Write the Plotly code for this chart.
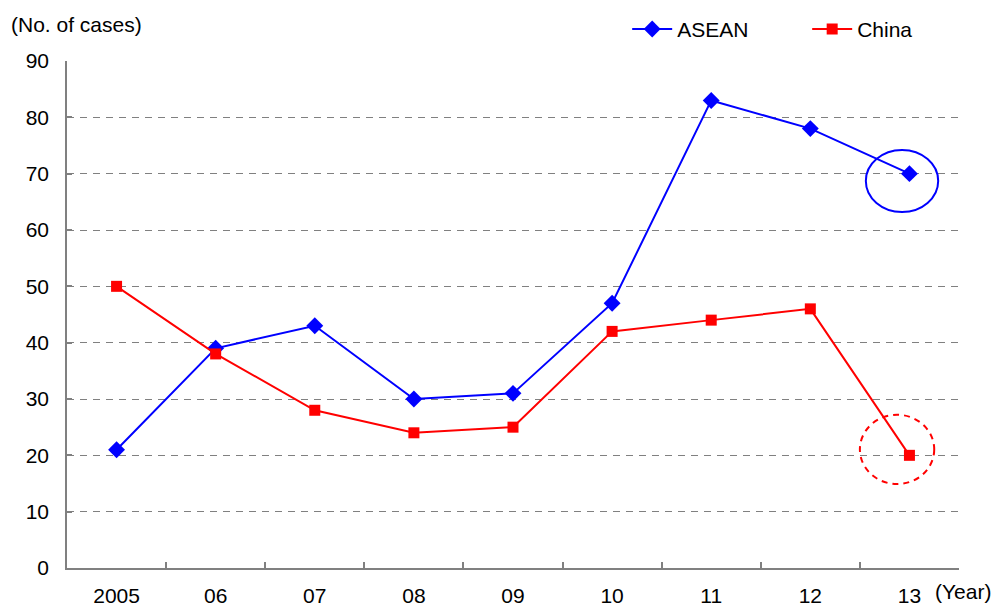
import plotly.graph_objects as go

years = ["2005", "06", "07", "08", "09", "10", "11", "12", "13"]
asean = [21, 39, 43, 30, 31, 47, 83, 78, 70]
china = [50, 38, 28, 24, 25, 42, 44, 46, 20]
y_ticks = [0, 10, 20, 30, 40, 50, 60, 70, 80, 90]

FONT = "Liberation Sans, Arial, sans-serif"

fig = go.Figure()
fig.add_trace(go.Scatter(
    x=years, y=asean, name="ASEAN", mode="lines+markers",
    line=dict(color="#0000FF", width=2),
    marker=dict(symbol="diamond", size=13, color="#0000FF"),
))
fig.add_trace(go.Scatter(
    x=years, y=china, name="China", mode="lines+markers",
    line=dict(color="#FF0000", width=2),
    marker=dict(symbol="square", size=11, color="#FF0000"),
))

# highlight the latest year for each series
fig.add_shape(type="circle", xref="x", yref="y",
              x0=7.56, x1=8.29, y0=63.2, y1=74.2,
              line=dict(color="#0000FF", width=2))
fig.add_shape(type="circle", xref="x", yref="y",
              x0=7.50, x1=8.25, y0=14.9, y1=27.2,
              line=dict(color="#FF0000", width=2, dash="6px,5px"))

fig.add_annotation(text="(No. of cases)", xref="paper", yref="paper",
                   x=-0.065, y=1.0, xanchor="left", yanchor="bottom",
                   yshift=23, showarrow=False,
                   font=dict(family=FONT, size=21, color="#000000"))
fig.add_annotation(text="(Year)", xref="paper", yref="paper",
                   x=1.0, y=0, xanchor="left", yanchor="top",
                   xshift=-26, yshift=-10, showarrow=False,
                   font=dict(family=FONT, size=21, color="#000000"))

fig.update_layout(
    width=1001, height=607,
    margin=dict(l=67, r=42, t=61, b=39, autoexpand=False),
    paper_bgcolor="white", plot_bgcolor="white",
    font=dict(family=FONT, size=21, color="#000000"),
    showlegend=True,
    legend=dict(orientation="h", x=0.628, y=1.022, xanchor="left",
                yanchor="bottom", yref="paper", bgcolor="rgba(0,0,0,0)",
                font=dict(family=FONT, size=21), itemwidth=40,
                entrywidth=125),
    xaxis=dict(
        type="category", range=[-0.5, 8.5], automargin=False,
        tickson="boundaries", ticks="inside", ticklen=6,
        tickcolor="#808080", tickwidth=1.5,
        showline=True, linecolor="#808080", linewidth=1.5,
        showgrid=False, ticklabelstandoff=8,
        tickfont=dict(family=FONT, size=21),
    ),
    yaxis=dict(
        range=[0, 90], tickvals=y_ticks, automargin=False,
        ticks="inside", ticklen=5, tickcolor="#808080", tickwidth=1.5,
        showline=True, linecolor="#808080", linewidth=1.5,
        showgrid=True, gridcolor="#808080", gridwidth=1,
        griddash="7px,6px", zeroline=False,
        ticklabelstandoff=12,
        tickfont=dict(family=FONT, size=21),
    ),
)

fig.write_html("out.html")
